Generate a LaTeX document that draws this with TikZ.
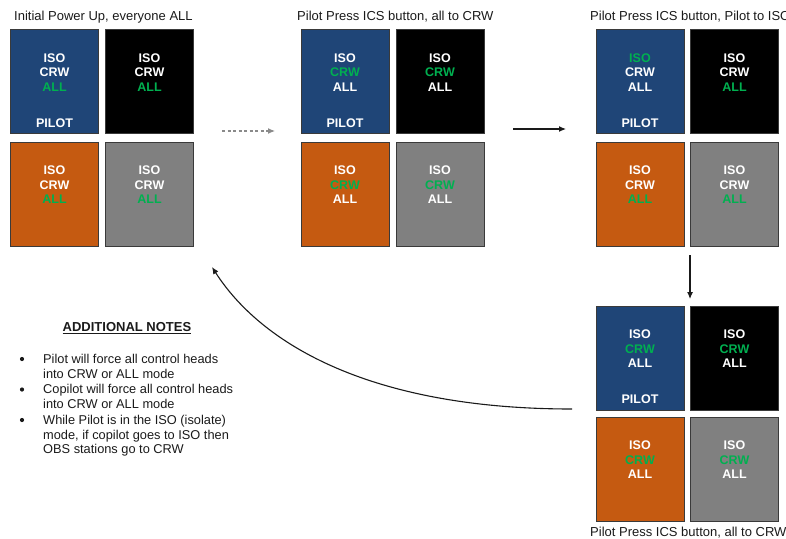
\documentclass[tikz,border=0pt]{standalone}
\usepackage{fontspec}
\setmainfont{Liberation Sans}
\usetikzlibrary{arrows.meta}
\definecolor{pblue}{HTML}{1F4577}
\definecolor{porange}{HTML}{C55A11}
\definecolor{pgray}{HTML}{808080}
\definecolor{pgreen}{HTML}{00B050}
\definecolor{pedge}{HTML}{3A3A3A}
\definecolor{ptext}{HTML}{1A1A1A}
\definecolor{pdash}{HTML}{8A8A8A}
\newcommand\ctlhead[7]{%
  \node[headbox, fill=#4] (#1) at (#2,#3) {};
  \node[modes] (#1t) at ([yshift=9pt]#1.center)
    {\textcolor{#5}{ISO}\\\textcolor{#6}{CRW}\\\textcolor{#7}{ALL}};
}
\begin{document}
\begin{tikzpicture}[x=1pt,y=-1pt,
  headbox/.style={draw=pedge, line width=1pt, minimum width=88pt, minimum height=104pt, inner sep=0pt},
  modes/.style={font=\bfseries\fontsize{12.5}{14.6}\selectfont, align=center, inner sep=0pt},
  pilot/.style={font=\bfseries\fontsize{12.5}{14.6}\selectfont, text=white, inner sep=0pt},
  title/.style={font=\fontsize{13}{15}\selectfont, text=ptext, inner sep=0pt, anchor=base west},
  note/.style={font=\fontsize{12.8}{14.6}\selectfont, text=ptext, inner sep=0pt, anchor=north west, align=left},
  bul/.style={circle, fill=ptext, inner sep=0pt, minimum size=4.2pt},
  flow/.style={draw=ptext, line width=1.1pt, -{Latex[length=7pt,width=6pt]}}]
\useasboundingbox (0,0) rectangle (786,538);
% group 1
\ctlhead{a1}{54.5}{81.5}{pblue}{white}{white}{pgreen}
\ctlhead{a2}{149.5}{81.5}{black}{white}{white}{pgreen}
\ctlhead{a3}{54.5}{194}{porange}{white}{white}{pgreen}
\ctlhead{a4}{149.5}{194}{pgray}{white}{white}{pgreen}
\node[pilot] (ap) at ([yshift=-41.5pt]a1.center) {PILOT};
\node[title] (at) at (14,20.5) {Initial Power Up, everyone ALL};
% group 2
\ctlhead{b1}{345}{81.5}{pblue}{white}{pgreen}{white}
\ctlhead{b2}{440}{81.5}{black}{white}{pgreen}{white}
\ctlhead{b3}{345}{194}{porange}{white}{pgreen}{white}
\ctlhead{b4}{440}{194}{pgray}{white}{pgreen}{white}
\node[pilot] (bp) at ([yshift=-41.5pt]b1.center) {PILOT};
\node[title] (bt) at (297,20.5) {Pilot Press ICS button, all to CRW};
% group 3
\ctlhead{c1}{640}{81.5}{pblue}{pgreen}{white}{white}
\ctlhead{c2}{734.5}{81.5}{black}{white}{white}{pgreen}
\ctlhead{c3}{640}{194}{porange}{white}{white}{pgreen}
\ctlhead{c4}{734.5}{194}{pgray}{white}{white}{pgreen}
\node[pilot] (cp) at ([yshift=-41.5pt]c1.center) {PILOT};
\node[title] (ct) at (590,20.5) {Pilot Press ICS button, Pilot to ISO};
% group 4
\ctlhead{d1}{640}{358}{pblue}{white}{pgreen}{white}
\ctlhead{d2}{734.5}{358}{black}{white}{pgreen}{white}
\ctlhead{d3}{640}{469}{porange}{white}{pgreen}{white}
\ctlhead{d4}{734.5}{469}{pgray}{white}{pgreen}{white}
\node[pilot] (dp) at ([yshift=-41.5pt]d1.center) {PILOT};
\node[title] (dt) at (590,536) {Pilot Press ICS button, all to CRW};
% arrows
\coordinate (s1) at (222,131); \coordinate (e1) at (275,131);
\draw[draw=pdash, line width=1.1pt, dash pattern=on 3pt off 2.5pt, -{Latex[length=7pt,width=6pt]}] (s1) -- (e1);
\coordinate (s2) at (513,129); \coordinate (e2) at (566,129);
\draw[flow] (s2) -- (e2);
\coordinate (s3) at (690,255); \coordinate (e3) at (690,299);
\draw[flow] (s3) -- (e3);
\coordinate (s4) at (572,409); \coordinate (e4) at (212,267);
\draw[flow] (s4) .. controls (372,409) and (262,345) .. (e4);
% notes
\node[font=\bfseries\fontsize{13}{15}\selectfont, text=ptext, inner sep=0pt] (nt) at (127,328) {\underline{ADDITIONAL NOTES}};
\node[bul] (n1b) at (22,359) {};
\node[note] (n1) at (43,354) {Pilot will force all control heads\\into CRW or ALL mode};
\node[bul] (n2b) at (22,389.5) {};
\node[note] (n2) at (43,384.5) {Copilot will force all control heads\\into CRW or ALL mode};
\node[bul] (n3b) at (22,420) {};
\node[note] (n3) at (43,415) {While Pilot is in the ISO (isolate)\\mode, if copilot goes to ISO then\\OBS stations go to CRW};
\end{tikzpicture}
\end{document}
